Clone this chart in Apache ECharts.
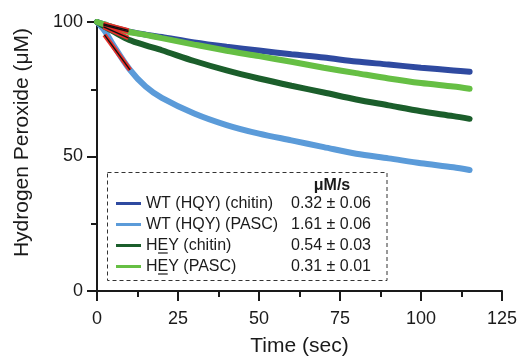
<!DOCTYPE html>
<html><head><meta charset="utf-8">
<script src="https://cdn.jsdelivr.net/npm/echarts@6/dist/echarts.min.js"></script>
<style>html,body{margin:0;padding:0;background:#fff}#c{width:521px;height:358px}</style>
</head><body><div id="c"></div>
<script>
var times = [0, 2.5, 5, 10, 15, 20, 30, 40, 50, 60, 70, 80, 90, 100, 110, 115];
var wtChitin = [100, 99, 98, 96.4, 95.3, 94.4, 92.4, 90.8, 89.4, 88, 86.8, 85.3, 84.2, 83, 82, 81.5];
var wtPasc   = [100, 96.5, 91.5, 82.5, 76, 71.8, 66, 61.7, 58.5, 56, 53.5, 51, 49.3, 47.5, 46, 45];
var heyChitin= [100, 98.2, 96.5, 93.3, 91.3, 89.5, 85.5, 82, 79, 76.3, 73.8, 71.2, 69, 66.8, 65, 64];
var heyPasc  = [100, 99, 98, 96.3, 95.2, 94, 91.6, 89.3, 87.3, 85.2, 83, 81, 79, 77.3, 76, 75.2];
var seriesNames = ['WT (HQY) (chitin)', 'WT (HQY) (PASC)', 'HEY (chitin)', 'HEY (PASC)'];
var rates = ['0.32 ± 0.06', '1.61 ± 0.06', '0.54 ± 0.03', '0.31 ± 0.01'];
var rateHeader = 'μM/s';
// initial-rate fit segments [t, value]
var fitWtChitin = [[2, 98.9], [9.7, 96.4]];
var fitWtPasc   = [[2.3, 95.2], [10.2, 82.2]];
var fitHeyChitin= [[2, 98.2], [9.7, 94.1]];
var fitHeyPasc  = [[2, 99.3], [9.7, 96.9]];
var xTicks = {min: 0, max: 125, interval: 25};
var yTicks = {min: 0, max: 100, interval: 50};

var colors = ['#2f4aa0', '#5b9bd9', '#1b5e2b', '#66bf44'];
var font = 'Liberation Sans, Arial, Helvetica, sans-serif';
var ink = '#1a1a1a';
var legFs = 16;

function pairs(vals){ return times.map(function(t,i){ return [t, vals[i]]; }); }
function curve(name, vals, color, z){
  return {name: name, type: 'line', data: pairs(vals), smooth: 0.3, showSymbol: false, symbol: 'none',
    lineStyle: {color: color, width: 6, cap: 'round'}, itemStyle: {color: color}, z: z};
}
function fit(data, z){
  return [
    {type: 'line', data: data, showSymbol: false, symbol: 'none', lineStyle: {color: '#e8302a', width: 4.5}, z: z, silent: true},
    {type: 'line', data: data, showSymbol: false, symbol: 'none', lineStyle: {color: '#111', width: 1.4}, z: z + 1, silent: true}
  ];
}
var rateMap = {};
seriesNames.forEach(function(n, i){ rateMap[n] = rates[i]; });

var ctxW = document.createElement('canvas').getContext('2d');
ctxW.font = legFs + 'px ' + font;
var hW = ctxW.measureText('H').width, eW = ctxW.measureText('E').width;
var legLeft = 116, legIconW = 25, legTop = 193, rowH = 21;
var textX = legLeft + legIconW + 5;
var underlineRows = [2, 3];

var graphics = [
  {type: 'rect', shape: {x: 107.5, y: 172.5, width: 279.5, height: 108}, z: 1,
   style: {fill: 'none', stroke: '#333', lineWidth: 1, lineDash: [4, 3]}},
  {type: 'text', x: 332, y: 186, z: 20,
   style: {text: rateHeader, font: 'bold ' + legFs + 'px ' + font, fill: ink, textAlign: 'center', textVerticalAlign: 'middle'}}
].concat(underlineRows.map(function(r){
  var y = legTop + rowH * r + rowH / 2 + 7.5;
  return {type: 'line', shape: {x1: textX + hW + 0.5, y1: y, x2: textX + hW + eW - 0.5, y2: y}, z: 20,
    style: {stroke: ink, lineWidth: 1.2}};
}));

var chart = echarts.init(document.getElementById('c'), null, {renderer: 'canvas'});
var series = [
  curve(seriesNames[1], wtPasc, colors[1], 2),
  curve(seriesNames[2], heyChitin, colors[2], 3),
  curve(seriesNames[0], wtChitin, colors[0], 4),
  curve(seriesNames[3], heyPasc, colors[3], 5)
].concat(fit(fitWtPasc, 10), fit(fitHeyChitin, 10), fit(fitWtChitin, 10), fit(fitHeyPasc, 10));

chart.setOption({
  animation: false,
  backgroundColor: '#fff',
  grid: {left: 97, right: 19, top: 22, bottom: 67, containLabel: false, outerBoundsMode: 'none'},
  xAxis: {type: 'value', min: xTicks.min, max: xTicks.max, interval: xTicks.interval,
    name: 'Time (sec)', nameLocation: 'middle', nameGap: 45,
    nameTextStyle: {fontFamily: font, fontSize: 21, color: ink},
    axisLine: {lineStyle: {color: ink, width: 2}},
    axisTick: {show: true, length: 10, lineStyle: {color: ink, width: 2}},
    minorTick: {show: true, splitNumber: 2, length: 6, lineStyle: {color: ink, width: 2}},
    splitLine: {show: false},
    axisLabel: {fontFamily: font, fontSize: 18, color: ink, margin: 19}
  },
  yAxis: {type: 'value', min: yTicks.min, max: yTicks.max, interval: yTicks.interval,
    name: 'Hydrogen Peroxide (μM)', nameLocation: 'middle', nameGap: 64,
    nameTextStyle: {fontFamily: font, fontSize: 21, color: ink, padding: [0, 0, 0, 28]},
    axisLine: {show: true, lineStyle: {color: ink, width: 2}},
    axisTick: {show: true, length: 10, lineStyle: {color: ink, width: 2}},
    minorTick: {show: true, splitNumber: 2, length: 6, lineStyle: {color: ink, width: 2}},
    splitLine: {show: false},
    axisLabel: {fontFamily: font, fontSize: 18, color: ink, margin: 14}
  },
  legend: {
    data: seriesNames, orient: 'vertical', left: legLeft, top: legTop,
    itemWidth: legIconW, itemHeight: 3, itemGap: 0, icon: 'rect', selectedMode: false,
    padding: 0,
    formatter: function(n){ return '{n|' + n + '}{v|' + rateMap[n] + '}'; },
    textStyle: {fontFamily: font, fontSize: legFs, color: ink, lineHeight: rowH,
      rich: {n: {fontFamily: font, fontSize: legFs, color: ink, width: 138, lineHeight: rowH},
             v: {fontFamily: font, fontSize: legFs, color: ink, width: 94, align: 'center', lineHeight: rowH}}}
  },
  graphic: graphics,
  series: series
});
</script></body></html>
